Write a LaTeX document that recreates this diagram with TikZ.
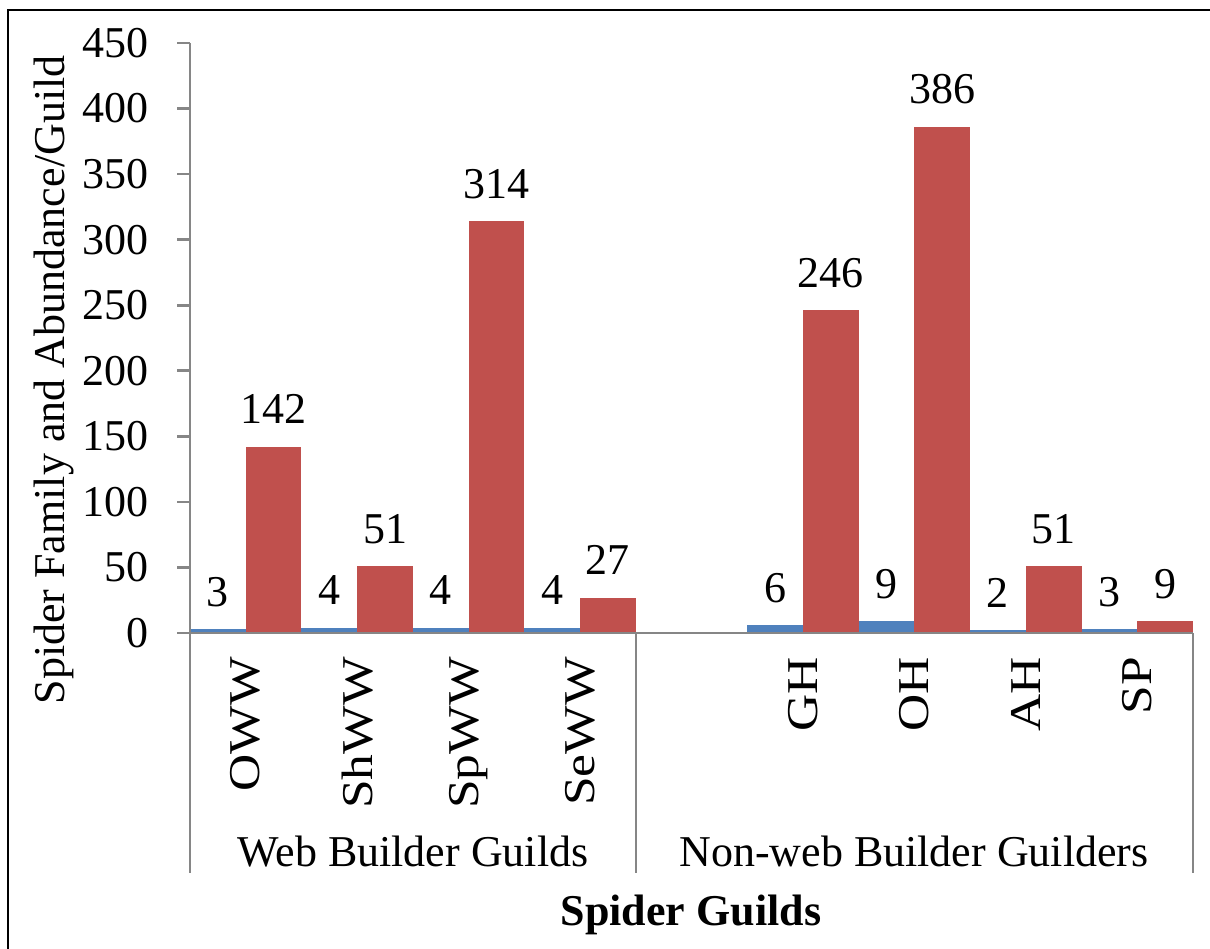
\documentclass[tikz,border=0pt]{standalone}
\usepackage{fontspec}
\setmainfont{Liberation Serif}
\definecolor{barred}{HTML}{C0504D}
\definecolor{barblue}{HTML}{4F81BD}
\definecolor{axisgray}{HTML}{868686}
\begin{document}
\begin{tikzpicture}[x=1pt,y=-1pt,
  txt/.style={inner sep=0pt,font=\fontsize{44}{50}\selectfont},
  axisline/.style={draw=axisgray,line width=2.6pt},
  redbar/.style={fill=barred,draw=none},
  bluebar/.style={fill=barblue,draw=none}]
\useasboundingbox (0,0) rectangle (1210,949);
% frame
\coordinate (fr1) at (1210,10);
\coordinate (fr2) at (8,10);
\coordinate (fr3) at (8,949);
\draw[black,line width=2pt] (fr1) -- (fr2) -- (fr3);
\def\w{111.44}
\def\s{1.3111}
% bars
\foreach \i/\b/\r in {1/3/142,2/4/51,3/4/314,4/4/27,6/6/246,7/9/386,8/2/51,9/3/9}{
  \pgfmathsetmacro\xl{190+(\i-1)*\w}
  \pgfmathsetmacro\xm{190+(\i-0.5)*\w}
  \pgfmathsetmacro\xr{190+\i*\w}
  \pgfmathsetmacro\yb{633-\b*\s}
  \pgfmathsetmacro\yr{633-\r*\s}
  \fill[bluebar] (\xl,633) rectangle (\xm,\yb);
  \fill[redbar] (\xm,633) rectangle (\xr,\yr);
  \node[txt,anchor=base] (bl\i) at ({(\xl+\xm)/2},{\yb-23}) {\b};
  \node[txt,anchor=base] (rl\i) at ({(\xm+\xr)/2},{\yr-23}) {\r};
}
% axes
\coordinate (o) at (190,633);
\coordinate (ytop) at (190,43);
\coordinate (ybot) at (190,873);
\coordinate (xl) at (177,633);
\coordinate (xr) at (1193,633);
\coordinate (d1) at (636,633);
\coordinate (d1b) at (636,873);
\coordinate (xrb) at (1193,873);
\draw[axisline] (ytop) -- (ybot);
\draw[axisline] (xl) -- (xr);
\draw[axisline] (d1) -- (d1b);
\draw[axisline] (xr) -- (xrb);
\foreach \v in {50,100,...,450}{
  \pgfmathsetmacro\yy{633-\v*\s}
  \coordinate (t\v) at (177,\yy);
  \coordinate (u\v) at (190,\yy);
  \draw[axisline] (t\v) -- (u\v);
}
\foreach \v in {0,50,...,450}{
  \pgfmathsetmacro\yy{633-\v*\s}
  \node[txt,anchor=east] (yl\v) at (149,\yy) {\v};
}
% category labels
\foreach \i/\lab in {1/OWW,2/ShWW,3/SpWW,4/SeWW,6/GH,7/OH,8/AH,9/SP}{
  \pgfmathsetmacro\xm{190+(\i-0.5)*\w}
  \node[txt,rotate=90,anchor=east] (cat\i) at (\xm,657) {\scalebox{1.17}[1]{\lab}};
}
\node[txt,anchor=base] (g1) at (413,866) {Web Builder Guilds};
\node[txt,anchor=base] (g2) at (914,866) {Non-web Builder Guilders};
\node[txt,anchor=base,font=\fontsize{44}{50}\selectfont\bfseries] (xt) at (691,925) {Spider Guilds};
\node[txt,rotate=90,anchor=base] (yt) at (64,380) {Spider Family and Abundance/Guild};
\end{tikzpicture}
\end{document}
